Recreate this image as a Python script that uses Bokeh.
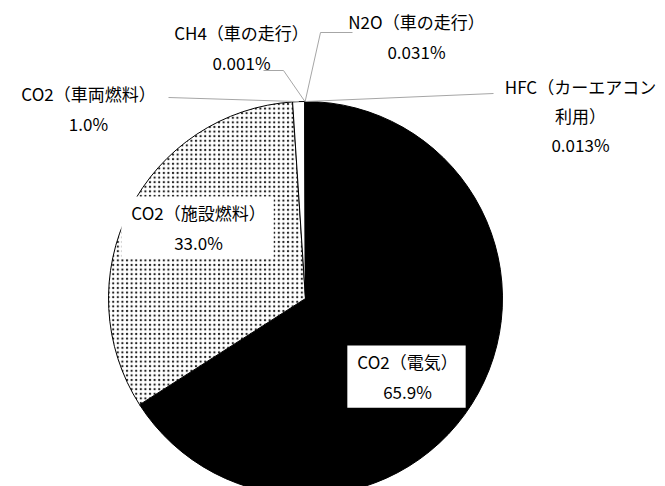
import numpy as np
from bokeh.plotting import figure
from bokeh.models import Range1d, Label, ColumnDataSource
from bokeh.embed import file_html
from bokeh.resources import INLINE

# ---- data (clockwise from 12 o'clock) ----
categories = ["CO2（電気）", "CO2（施設燃料）", "CO2（車両燃料）",
              "CH4（車の走行）", "N2O（車の走行）", "HFC（カーエアコン\n利用）"]
values = [65.9, 33.0, 1.0, 0.001, 0.031, 0.013]

# ---- styles ----
fill_colors = ["black", "white", "white", "white", "white", "white"]
hatches = [" ", "dot", " ", " ", " ", " "]
FONT = "Noto Sans CJK JP"
LEADER = "#a6a6a6"

W, H = 665, 486
CX, CY = 305, 298      # pie centre in page pixels
R = 197                # pie radius in pixels


def pos(px, py):
    """page-pixel layout position -> plot units (origin at pie centre)"""
    return px - CX, CY - py


def pct(v):
    return f"{v:.1f}%" if v >= 1 else f"{v:.3f}%"


vals = np.array(values)
frac = vals / vals.sum()
cum = np.concatenate([[0], np.cumsum(frac)])
start = np.pi / 2 - 2 * np.pi * cum[:-1]
end = np.pi / 2 - 2 * np.pi * cum[1:]
mid = (start + end) / 2

src = ColumnDataSource(dict(x=[0] * len(vals), y=[0] * len(vals),
                            start=start, end=end, fill=fill_colors, hatch=hatches))

p = figure(width=W, height=H, output_backend="svg", toolbar_location=None,
           x_range=Range1d(-CX, W - CX), y_range=Range1d(CY - H, CY),
           x_axis_location=None, y_axis_location=None, min_border=0)
p.grid.visible = False
p.outline_line_color = None
p.background_fill_color = "white"

p.wedge(x="x", y="y", radius=R, start_angle="start", end_angle="end",
        direction="clock", fill_color="fill", line_color="black", line_width=1,
        hatch_pattern="hatch", hatch_color="#222222", hatch_scale=4.6, hatch_weight=1.1,
        source=src)

# ---- leader lines for outside labels ----
rim_x = R * np.cos(mid)
rim_y = R * np.sin(mid)
leader_pts = {
    2: [(168, 97)],
    3: [(263, 70), (283, 70)],
    4: [(352, 32), (320, 32)],
    5: [(493, 93)],
}
xs, ys = [], []
for i, pts in leader_pts.items():
    lx = [pos(*q)[0] for q in pts] + [rim_x[i]]
    ly = [pos(*q)[1] for q in pts] + [rim_y[i]]
    xs.append(lx)
    ys.append(ly)
p.multi_line(xs=xs, ys=ys, line_color=LEADER, line_width=1)

# ---- labels (block centre positions in page pixels) ----
label_pos = [(406, 376), (197, 227), (88, 108), (241, 47), (416, 36), (580, 115)]
boxed = [True, True, False, False, False, False]
for name, v, (lx, ly), b in zip(categories, values, label_pos, boxed):
    x, y = pos(lx, ly)
    kw = dict(background_fill_color="white",
              padding=dict(left=10, right=8, top=4, bottom=4)) if b else {}
    p.add_layout(Label(x=x, y=y, text=f"{name}\n{pct(v)}", text_align="center",
                       text_baseline="middle", text_font=FONT, text_font_size="17px",
                       text_color="black", text_line_height=1.17, **kw))

open("out.html", "w").write(file_html(p, INLINE))
